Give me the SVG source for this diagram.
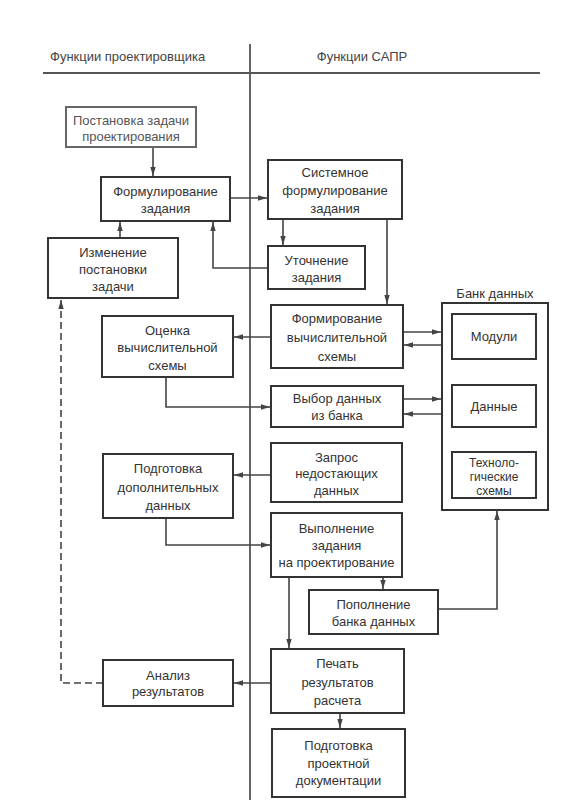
<svg xmlns="http://www.w3.org/2000/svg" width="570" height="805" viewBox="0 0 570 805">
<style>
  .box { fill: none; stroke: #333; stroke-width: 2; }
  .lite { stroke: #666; }
  .t { font-family: "Liberation Sans", "DejaVu Sans", sans-serif; font-size: 13px; fill: #333; text-anchor: middle; }
  .tl { fill: #555; }
  .h { font-family: "Liberation Sans", "DejaVu Sans", sans-serif; font-size: 13px; fill: #444; }
  .c { fill: none; stroke: #444; stroke-width: 1.6; }
  .dash { stroke-dasharray: 7 4; }
  .rule { stroke: #555; stroke-width: 1.8; fill: none; }
</style>
<defs>
  <marker id="arr" viewBox="0 0 10 6" refX="10" refY="3" markerWidth="9" markerHeight="5.4" markerUnits="userSpaceOnUse" orient="auto">
    <path d="M0,0 L10,3 L0,6 Z" fill="#444"/>
  </marker>
</defs>
<rect width="570" height="805" fill="#fff"/>

<g id="header">
  <text class="h" x="50" y="61">Функции проектировщика</text>
  <text class="h" x="362" y="61" text-anchor="middle">Функции САПР</text>
  <line class="rule" x1="43" y1="73" x2="540" y2="73"/>
  <line class="rule" x1="250" y1="44" x2="250" y2="800"/>
</g>

<g id="connectors">
  <line class="c" x1="153" y1="147" x2="153" y2="176" marker-end="url(#arr)"/>
  <line class="c" x1="120" y1="238" x2="120" y2="222" marker-end="url(#arr)"/>
  <line class="c" x1="230" y1="198" x2="267" y2="198" marker-end="url(#arr)"/>
  <polyline class="c" points="268,268 213,268 213,222" marker-end="url(#arr)"/>
  <line class="c" x1="283" y1="219" x2="283" y2="245" marker-end="url(#arr)"/>
  <line class="c" x1="387" y1="219" x2="387" y2="304" marker-end="url(#arr)"/>
  <line class="c" x1="271" y1="337" x2="234" y2="337" marker-end="url(#arr)"/>
  <polyline class="c" points="166,377 166,407 270,407" marker-end="url(#arr)"/>
  <line class="c" x1="403" y1="332" x2="441" y2="332" marker-end="url(#arr)"/>
  <line class="c" x1="442" y1="345" x2="404" y2="345" marker-end="url(#arr)"/>
  <line class="c" x1="403" y1="399" x2="441" y2="399" marker-end="url(#arr)"/>
  <line class="c" x1="442" y1="414" x2="404" y2="414" marker-end="url(#arr)"/>
  <line class="c" x1="271" y1="475" x2="234" y2="475" marker-end="url(#arr)"/>
  <polyline class="c" points="166,518 166,545 270,545" marker-end="url(#arr)"/>
  <line class="c" x1="289" y1="577" x2="289" y2="648" marker-end="url(#arr)"/>
  <line class="c" x1="383" y1="577" x2="383" y2="589" marker-end="url(#arr)"/>
  <polyline class="c" points="438,609 497,609 497,511" marker-end="url(#arr)"/>
  <line class="c" x1="271" y1="683" x2="234" y2="683" marker-end="url(#arr)"/>
  <line class="c" x1="340" y1="713" x2="340" y2="728" marker-end="url(#arr)"/>
  <polyline class="c dash" points="103,683 61,683 61,300" marker-end="url(#arr)"/>
</g>

<g id="n_postanovka">
  <rect class="box lite" x="66" y="107" width="130" height="40"/>
  <text class="t tl" x="131" y="125">Постановка задачи</text>
  <text class="t tl" x="131" y="141">проектирования</text>
</g>
<g id="n_formulirovanie">
  <rect class="box" x="101" y="177" width="129" height="44"/>
  <text class="t" x="165.5" y="196">Формулирование</text>
  <text class="t" x="165.5" y="213">задания</text>
</g>
<g id="n_izmenenie">
  <rect class="box" x="48" y="238" width="130" height="60"/>
  <text class="t" x="113" y="257">Изменение</text>
  <text class="t" x="113" y="274">постановки</text>
  <text class="t" x="113" y="291">задачи</text>
</g>
<g id="n_sistemnoe">
  <rect class="box" x="268" y="160" width="134" height="59"/>
  <text class="t" x="335" y="177">Системное</text>
  <text class="t" x="335" y="195">формулирование</text>
  <text class="t" x="335" y="213">задания</text>
</g>
<g id="n_utochnenie">
  <rect class="box" x="268" y="246" width="97" height="43"/>
  <text class="t" x="316.5" y="265">Уточнение</text>
  <text class="t" x="316.5" y="282">задания</text>
</g>
<g id="n_formirovanie">
  <rect class="box" x="271" y="305" width="132" height="63"/>
  <text class="t" x="337" y="323">Формирование</text>
  <text class="t" x="337" y="342">вычислительной</text>
  <text class="t" x="337" y="361">схемы</text>
</g>
<g id="n_ocenka">
  <rect class="box" x="102" y="316" width="131" height="61"/>
  <text class="t" x="167.5" y="335">Оценка</text>
  <text class="t" x="167.5" y="352">вычислительной</text>
  <text class="t" x="167.5" y="370">схемы</text>
</g>
<g id="n_vybor">
  <rect class="box" x="271" y="386" width="132" height="41"/>
  <text class="t" x="337" y="403">Выбор данных</text>
  <text class="t" x="337" y="420">из банка</text>
</g>
<g id="n_zapros">
  <rect class="box" x="271" y="443" width="131" height="59"/>
  <text class="t" x="336.5" y="462">Запрос</text>
  <text class="t" x="336.5" y="478">недостающих</text>
  <text class="t" x="336.5" y="495">данных</text>
</g>
<g id="n_podgotovka_dop">
  <rect class="box" x="103" y="454" width="130" height="64"/>
  <text class="t" x="168" y="473">Подготовка</text>
  <text class="t" x="168" y="492">дополнительных</text>
  <text class="t" x="168" y="510">данных</text>
</g>
<g id="n_vypolnenie">
  <rect class="box" x="271" y="513" width="131" height="64"/>
  <text class="t" x="336.5" y="533">Выполнение</text>
  <text class="t" x="336.5" y="550">задания</text>
  <text class="t" x="336.5" y="567">на проектирование</text>
</g>
<g id="n_popolnenie">
  <rect class="box" x="309" y="590" width="129" height="44"/>
  <text class="t" x="373.5" y="609">Пополнение</text>
  <text class="t" x="373.5" y="626">банка данных</text>
</g>
<g id="n_pechat">
  <rect class="box" x="271" y="649" width="133" height="64"/>
  <text class="t" x="337.5" y="668">Печать</text>
  <text class="t" x="337.5" y="687">результатов</text>
  <text class="t" x="337.5" y="705">расчета</text>
</g>
<g id="n_analiz">
  <rect class="box" x="103" y="660" width="130" height="46"/>
  <text class="t" x="168" y="680">Анализ</text>
  <text class="t" x="168" y="696">результатов</text>
</g>
<g id="n_podgotovka_doc">
  <rect class="box" x="272" y="729" width="133" height="68"/>
  <text class="t" x="338.5" y="750">Подготовка</text>
  <text class="t" x="338.5" y="768">проектной</text>
  <text class="t" x="338.5" y="785">документации</text>
</g>
<g id="n_bank">
  <text class="t" x="495" y="298">Банк данных</text>
  <rect class="box" x="442" y="303" width="106" height="207"/>
</g>
<g id="n_moduli">
  <rect class="box" x="452" y="314" width="84" height="45"/>
  <text class="t" x="494" y="341">Модули</text>
</g>
<g id="n_dannye">
  <rect class="box" x="452" y="385" width="84" height="42"/>
  <text class="t" x="494" y="411">Данные</text>
</g>
<g id="n_tehno">
  <rect class="box" x="452" y="452" width="84" height="46"/>
  <text class="t" x="494" y="467" style="font-size:12px">Техноло-</text>
  <text class="t" x="494" y="481" style="font-size:12px">гические</text>
  <text class="t" x="494" y="495" style="font-size:12px">схемы</text>
</g>
</svg>
